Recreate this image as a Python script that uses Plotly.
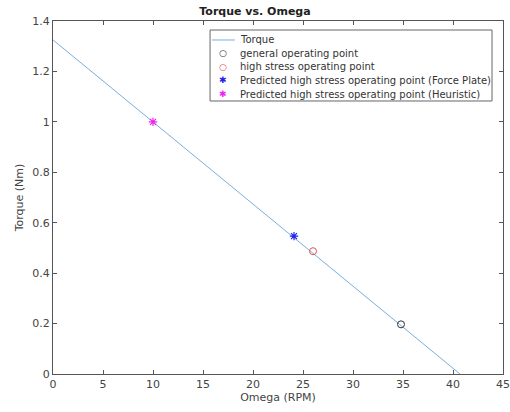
import plotly.graph_objects as go

# Data
line_omega = [0, 40.7]
line_torque = [1.325, 0.0]

general_omega = [34.8]
general_torque = [0.197]

high_omega = [26.0]
high_torque = [0.487]

fp_omega = [24.1]
fp_torque = [0.547]

heur_omega = [10.0]
heur_torque = [1.0]

x_ticks = [0, 5, 10, 15, 20, 25, 30, 35, 40, 45]
y_ticks = [0, 0.2, 0.4, 0.6, 0.8, 1, 1.2, 1.4]
y_ticktext = ["0", "0.2", "0.4", "0.6", "0.8", "1", "1.2", "1.4"]

legend_names = ["Torque", "general operating point", "high stress operating point",
                "Predicted high stress operating point (Force Plate)",
                "Predicted high stress operating point (Heuristic)"]

LINE_C = "#7aaedb"
GEN_C = "#333333"
HIGH_C = "#e05555"
FP_C = "#2020ee"
HEUR_C = "#ee22ee"

fig = go.Figure()
fig.add_trace(go.Scatter(x=line_omega, y=line_torque, mode="lines", name=legend_names[0],
                         line=dict(color=LINE_C, width=1)))
fig.add_trace(go.Scatter(x=general_omega, y=general_torque, mode="markers",
                         name=legend_names[1],
                         marker=dict(symbol="circle-open", size=7, color=GEN_C, line=dict(width=1))))
fig.add_trace(go.Scatter(x=high_omega, y=high_torque, mode="markers",
                         name=legend_names[2],
                         marker=dict(symbol="circle-open", size=7, color=HIGH_C, line=dict(width=1))))
fig.add_trace(go.Scatter(x=fp_omega, y=fp_torque, mode="markers",
                         name=legend_names[3],
                         marker=dict(symbol="asterisk-open", size=7, color=FP_C, line=dict(width=1.2))))
fig.add_trace(go.Scatter(x=heur_omega, y=heur_torque, mode="markers",
                         name=legend_names[4],
                         marker=dict(symbol="asterisk-open", size=7, color=HEUR_C, line=dict(width=1.2))))

axis_common = dict(showgrid=False, zeroline=False, showline=True, mirror="ticks",
                   linecolor="#555555", linewidth=1, ticks="inside", ticklen=4,
                   tickcolor="#555555", tickfont=dict(size=11, color="#444444"),
                   automargin=False)

fig.update_xaxes(range=[0, 45], tickvals=x_ticks,
                 title=dict(text="Omega (RPM)", font=dict(size=11, color="#444444"), standoff=2),
                 **axis_common)
fig.update_yaxes(range=[0, 1.4], tickvals=y_ticks, ticktext=y_ticktext,
                 title=dict(text="Torque (Nm)", font=dict(size=11, color="#444444"), standoff=6),
                 **axis_common)

# Compact MATLAB-style legend box (drawn with shapes/annotations)
lx0, lx1, ly0, ly1 = 0.349, 0.9756, 0.7734, 0.9745
row_y = [0.9462, 0.9080, 0.8697, 0.8315, 0.7932]
sym_x = 0.3778
text_x = 0.4111
shapes = [dict(type="rect", xref="paper", yref="paper", x0=lx0, x1=lx1, y0=ly0, y1=ly1,
               line=dict(color="#666666", width=1), fillcolor="white", layer="above"),
          dict(type="line", xref="paper", yref="paper", x0=0.3533, x1=0.4044,
               y0=row_y[0], y1=row_y[0], line=dict(color=LINE_C, width=1), layer="above")]
annotations = []
glyphs = [None, ("○", GEN_C), ("○", HIGH_C), ("✱", FP_C), ("✱", HEUR_C)]
for i, name in enumerate(legend_names):
    annotations.append(dict(xref="paper", yref="paper", x=text_x, y=row_y[i], text=name,
                            showarrow=False, xanchor="left", yanchor="middle",
                            font=dict(size=10, color="#333333")))
    if glyphs[i]:
        g, c = glyphs[i]
        annotations.append(dict(xref="paper", yref="paper", x=sym_x, y=row_y[i], text=g,
                                showarrow=False, xanchor="center", yanchor="middle",
                                font=dict(size=9, color=c)))

fig.update_layout(
    width=510, height=412,
    margin=dict(l=53, r=7, t=21, b=38),
    paper_bgcolor="white", plot_bgcolor="white",
    font=dict(family="DejaVu Sans", color="#444444"),
    title=dict(text="<b>Torque vs. Omega</b>", x=0.5, xanchor="center",
               y=0.973, yanchor="middle", font=dict(size=11, color="#222222")),
    showlegend=False,
    shapes=shapes,
    annotations=annotations,
)

fig.write_html("out.html", post_script="document.body.style.margin='0';",
               config={"displayModeBar": False})
